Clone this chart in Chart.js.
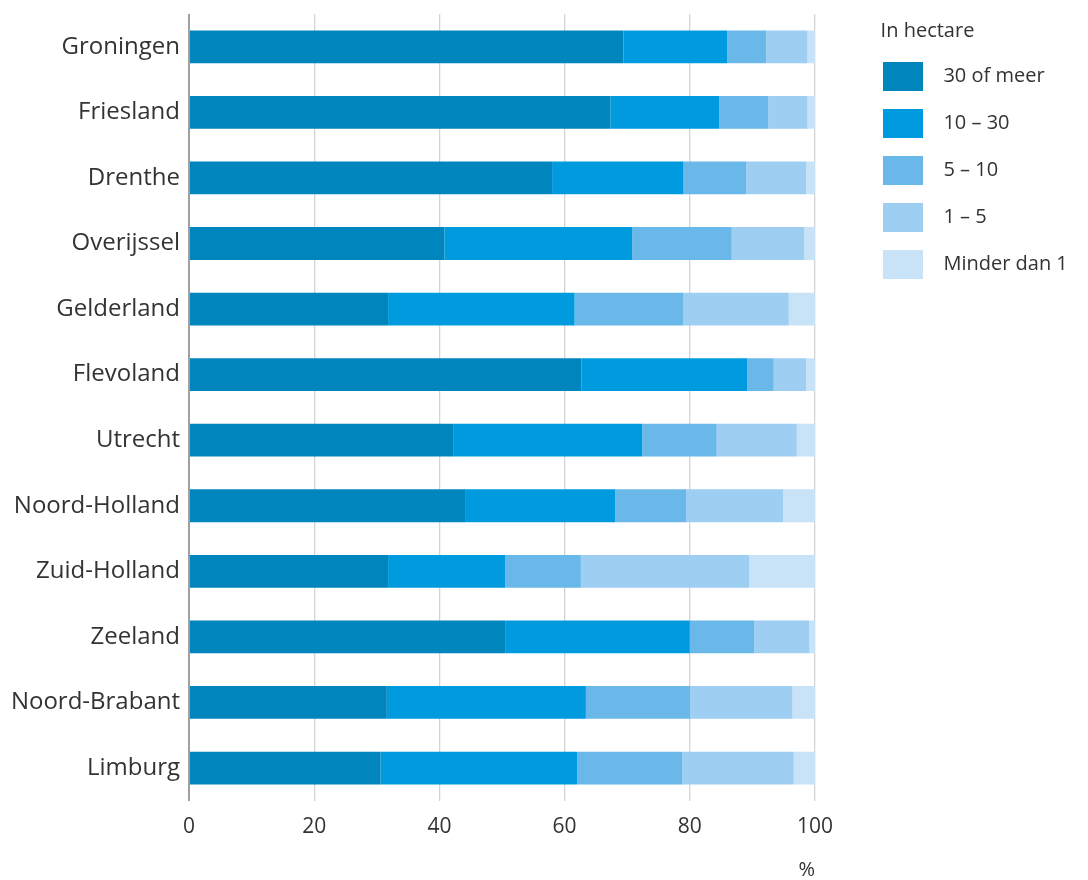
<!DOCTYPE html>
<html>
<head>
<meta charset="utf-8">
<script src="https://cdn.jsdelivr.net/npm/chart.js@4"></script>
<style>
html,body{margin:0;padding:0;background:#fff;}
#wrap{width:1088px;height:880px;position:relative;}
</style>
</head>
<body>
<div id="wrap"><canvas id="c" width="1088" height="880"></canvas></div>
<script>
const categories = ['Groningen','Friesland','Drenthe','Overijssel','Gelderland','Flevoland','Utrecht','Noord-Holland','Zuid-Holland','Zeeland','Noord-Brabant','Limburg'];
const seriesNames = ['30 of meer','10 \u2013 30','5 \u2013 10','1 \u2013 5','Minder dan 1'];
const s30ofMeer   = [69.4, 67.3, 58.0, 40.8, 31.8, 62.7, 42.3, 44.1, 31.8, 50.5, 31.6, 30.6];
const s10tot30    = [16.6, 17.4, 21.0, 30.0, 29.8, 26.5, 30.1, 24.0, 18.7, 29.5, 31.8, 31.4];
const s5tot10     = [6.2, 7.8, 10.0, 15.9, 17.4, 4.2, 11.9, 11.3, 12.1, 10.3, 16.7, 16.8];
const s1tot5      = [6.6, 6.3, 9.6, 11.6, 16.8, 5.2, 12.8, 15.5, 26.9, 8.8, 16.3, 17.8];
const sMinderDan1 = [1.2, 1.2, 1.4, 1.7, 4.2, 1.4, 2.9, 5.1, 10.5, 0.9, 3.6, 3.4];
const xTicks = [0, 20, 40, 60, 80, 100];
const colors = ['#0085bd', '#009bdf', '#6ab8e9', '#9ecef2', '#c8e3f7'];

const seriesData = [s30ofMeer, s10tot30, s5tot10, s1tot5, sMinderDan1];
const FONT = "'Open Sans', 'Noto Sans', sans-serif";

// let the legend box reach the right edge of the canvas so long labels are not clipped
const legendWiden = {
  id: 'legendWiden',
  afterLayout(chart) {
    const lg = chart.legend;
    if (lg) { lg.right = chart.width; lg.width = lg.right - lg.left; }
  }
};

const chart = new Chart(document.getElementById('c'), {
  type: 'bar',
  data: {
    labels: categories,
    datasets: seriesData.map((d, i) => ({
      label: seriesNames[i],
      data: d,
      backgroundColor: colors[i],
      borderWidth: 0,
      yAxisID: 'y',
      barPercentage: 0.5,
      categoryPercentage: 1.0
    }))
  },
  plugins: [legendWiden],
  options: {
    indexAxis: 'y',
    responsive: false,
    animation: false,
    layout: { padding: { top: 14, left: 0, right: 50, bottom: 0 } },
    scales: {
      x: {
        stacked: true,
        min: 0, max: 100,
        afterBuildTicks: s => { s.ticks = xTicks.map(v => ({ value: v })); },
        grid: {
          drawTicks: false,
          color: ctx => ctx.tick && ctx.tick.value === 0 ? '#a0a0a0' : '#d4d4d4',
          lineWidth: ctx => ctx.tick && ctx.tick.value === 0 ? 2 : 1.3
        },
        border: { display: false },
        ticks: { color: '#333', font: { family: FONT, size: 21 }, padding: 14 },
        title: { display: true, text: '%', align: 'end', color: '#333', font: { family: FONT, size: 20 }, padding: { top: 4, bottom: -2 } }
      },
      y: {
        stacked: true,
        grid: { display: false, drawTicks: false },
        border: { display: false },
        ticks: { color: '#333', font: { family: FONT, size: 24, lineHeight: 0.4 }, padding: 9 },
        afterFit: s => { s.width = 189; }
      },
      gap: {
        type: 'category',
        axis: 'y',
        position: 'right',
        labels: categories,
        display: true,
        grid: { display: false, drawTicks: false },
        border: { display: false },
        ticks: { display: false },
        afterFit: s => { s.width = 50; }
      }
    },
    plugins: {
      tooltip: { enabled: false },
      legend: {
        position: 'right',
        align: 'start',
        title: { display: true, text: '   In hectare', position: 'start', color: '#333', font: { family: FONT, size: 20 }, padding: { top: 7, bottom: -1 } },
        labels: {
          color: '#333',
          font: { family: FONT, size: 20 },
          boxWidth: 40,
          boxHeight: 29,
          padding: 18,
          generateLabels: ch => ch.data.datasets.map((ds, i) => ({
            text: '  ' + ds.label,
            fillStyle: ds.backgroundColor,
            strokeStyle: ds.backgroundColor,
            lineWidth: 0,
            hidden: false,
            datasetIndex: i,
            fontColor: '#333'
          }))
        }
      }
    }
  }
});
</script>
</body>
</html>
